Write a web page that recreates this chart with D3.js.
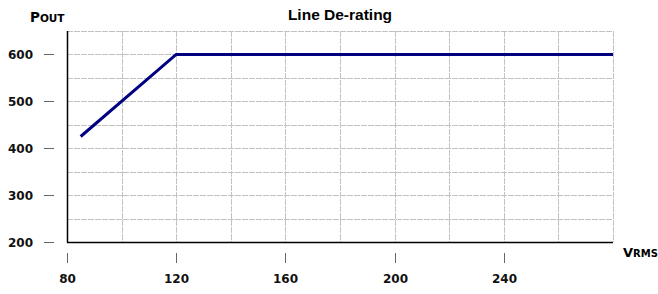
<!DOCTYPE html>
<html>
<head>
<meta charset="utf-8">
<script src="https://cdn.jsdelivr.net/npm/d3@7/dist/d3.min.js"></script>
<style>
	body { margin: 0; background: #fff; }
	.grid line { stroke: #c2c2c2; stroke-dasharray: 6,1; stroke-width: 1; }
	.tick-lbl { font-family: "DejaVu Sans", Verdana, sans-serif; font-weight: bold; font-size: 12px; fill: #111; }
</style>
</head>
<body>
<div id="chart"></div>
<script>
(function(){

	var width = 658;
	var height = 294;

	// data
	var vin  = [85, 120, 280];
	var pout = [425, 600, 600];
	var xTicks = [80, 120, 160, 200, 240];
	var yTicks = [200, 300, 400, 500, 600];
	var xGrid = [100, 120, 140, 160, 180, 200, 220, 240, 260, 280];
	var yGrid = [250, 300, 350, 400, 450, 500, 550, 600, 650];

	var left = 67, right = 613, top = 31, bottom = 242;

	var svg = d3.select("div#chart")
		.append("svg")
		.attr("width", width)
		.attr("height", height);

	var x = d3.scaleLinear().domain([80, 280]).range([left, right]);
	var y = d3.scaleLinear().domain([200, 650]).range([bottom, top]);

	var grid = svg.append("g").attr("class", "grid");
	grid.selectAll(".gx").data(xGrid).enter().append("line")
		.attr("x1", function(d){ return Math.round(x(d)) + 0.5; })
		.attr("x2", function(d){ return Math.round(x(d)) + 0.5; })
		.attr("y1", top).attr("y2", bottom);
	grid.selectAll(".gy").data(yGrid).enter().append("line")
		.attr("y1", function(d){ return Math.round(y(d)) + 0.5; })
		.attr("y2", function(d){ return Math.round(y(d)) + 0.5; })
		.attr("x1", left).attr("x2", right);

	// axis lines
	svg.append("line")
		.attr("x1", left + 0.5).attr("x2", left + 0.5)
		.attr("y1", top).attr("y2", bottom + 0.5)
		.attr("stroke", "#000").attr("stroke-width", 1.5);
	svg.append("line")
		.attr("x1", left).attr("x2", right)
		.attr("y1", bottom + 0.5).attr("y2", bottom + 0.5)
		.attr("stroke", "#000").attr("stroke-width", 1.5);

	// y ticks
	var yt = svg.selectAll(".yt").data(yTicks).enter().append("g")
		.attr("transform", function(d){ return "translate(0," + (Math.round(y(d)) + 0.5) + ")"; });
	yt.append("line").attr("x1", 44).attr("x2", 54).attr("stroke", "#666");
	yt.append("text").attr("class", "tick-lbl")
		.attr("x", 33).attr("dy", "0.36em")
		.attr("text-anchor", "end")
		.text(function(d){ return d; });

	// x ticks
	var xt = svg.selectAll(".xt").data(xTicks).enter().append("g")
		.attr("transform", function(d){ return "translate(" + (Math.round(x(d)) + 0.5) + ",0)"; });
	xt.append("line").attr("y1", 253).attr("y2", 263).attr("stroke", "#666");
	xt.append("text").attr("class", "tick-lbl")
		.attr("y", 283).attr("text-anchor", "middle")
		.text(function(d){ return d; });

	// derating curve
	var pts = vin.map(function(v, i){ return [v, pout[i]]; });
	var line = d3.line()
		.x(function(d){ return x(d[0]); })
		.y(function(d){ return y(d[1]); });
	svg.append("path")
		.datum(pts)
		.attr("d", line)
		.attr("fill", "none")
		.attr("stroke", "#000080")
		.attr("stroke-width", 3);

	// title
	svg.append("text")
		.attr("x", 340).attr("y", 20)
		.attr("text-anchor", "middle")
		.style("font-family", "'Liberation Sans', Arial, sans-serif")
		.style("font-weight", "bold")
		.style("font-size", "15.5px")
		.text("Line De-rating");

	// axis names, small caps
	var py = svg.append("text")
		.attr("x", 30).attr("y", 22)
		.style("font-family", "'DejaVu Sans', Verdana, sans-serif")
		.style("font-weight", "bold");
	py.append("tspan").style("font-size", "13.5px").text("P");
	py.append("tspan").style("font-size", "10.5px").text("OUT");

	var vx = svg.append("text")
		.attr("x", 623).attr("y", 257)
		.style("font-family", "'DejaVu Sans', Verdana, sans-serif")
		.style("font-weight", "bold");
	vx.append("tspan").style("font-size", "13px").text("V");
	vx.append("tspan").style("font-size", "10px").text("RMS");

})();
</script>
</body>
</html>
